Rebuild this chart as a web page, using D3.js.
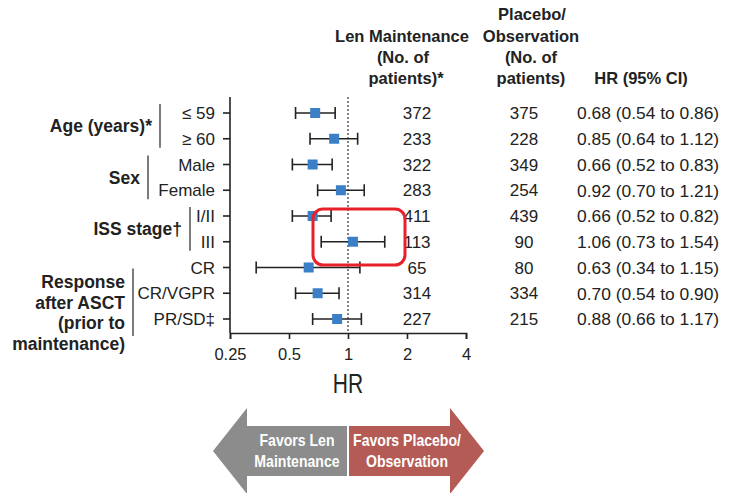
<!DOCTYPE html>
<html>
<head>
<meta charset="utf-8">
<script src="https://cdn.jsdelivr.net/npm/d3@7"></script>
<style>
  body { margin: 0; background: #fff; }
  text { font-family: "Liberation Sans", Arial, sans-serif; fill: #222; }
</style>
</head>
<body>
<div id="chart"></div>
<script>
// subgroup rows
const rowLabels = ['≤ 59', '≥ 60', 'Male', 'Female', 'I/II', 'III', 'CR', 'CR/VGPR', 'PR/SD‡']
const hr = [0.68, 0.85, 0.66, 0.92, 0.66, 1.06, 0.63, 0.70, 0.88]
const ciLow = [0.54, 0.64, 0.52, 0.70, 0.52, 0.73, 0.34, 0.54, 0.66]
const ciHigh = [0.86, 1.12, 0.83, 1.21, 0.82, 1.54, 1.15, 0.90, 1.17]
const nLen = [372, 233, 322, 283, 411, 113, 65, 314, 227]
const nPlacebo = [375, 228, 349, 254, 439, 90, 80, 334, 215]
const xTicks = [0.25, 0.5, 1, 2, 4]

// groups: label lines and first/last row index
const groups = [
    {lines: ['Age (years)*'], from: 0, to: 1},
    {lines: ['Sex'], from: 2, to: 3},
    {lines: ['ISS stage†'], from: 4, to: 5},
    {lines: ['Response', 'after ASCT', '(prior to', 'maintenance)'], from: 6, to: 8}
]

const W = 735, H = 493
const svg = d3.select('#chart').append('svg')
    .attr('width', W)
    .attr('height', H)

const x = d3.scaleLog().base(2).domain([0.25, 4]).range([230, 466])
const y = d3.scalePoint().domain(d3.range(rowLabels.length)).range([113, 319])
const axisTop = 97, axisBottom = 333

// column headers
const hdr = svg.append('g').attr('font-weight', 'bold').attr('font-size', 16.5)
    .attr('text-anchor', 'middle')
hdr.append('text').attr('x', 532).attr('y', 20).text('Placebo/')
hdr.append('text').attr('x', 402).attr('y', 42).text('Len Maintenance')
hdr.append('text').attr('x', 531).attr('y', 42).text('Observation')
hdr.append('text').attr('x', 403).attr('y', 63).text('(No. of')
hdr.append('text').attr('x', 531).attr('y', 63).text('(No. of')
hdr.append('text').attr('x', 406).attr('y', 84).text('patients)*')
hdr.append('text').attr('x', 531).attr('y', 84).text('patients)')
hdr.append('text').attr('x', 641).attr('y', 84).text('HR (95% CI)')

// axes
svg.append('g')
    .attr('transform', 'translate(0,' + axisBottom + ')')
    .call(d3.axisBottom(x).tickValues(xTicks).tickFormat(d => d).tickSize(6).tickPadding(9))
    .call(g => g.select('.domain').attr('stroke', '#222').attr('stroke-width', 1.6))
    .call(g => g.selectAll('.tick line').attr('stroke', '#222').attr('stroke-width', 1.6))
    .call(g => g.selectAll('.tick text').attr('font-size', 16.5).attr('fill', '#222')
        .attr('font-family', '"Liberation Sans", Arial, sans-serif'))

svg.append('line')
    .attr('x1', x(0.25)).attr('x2', x(0.25))
    .attr('y1', axisTop).attr('y2', axisBottom)
    .attr('stroke', '#222').attr('stroke-width', 1.6)

svg.append('line')
    .attr('x1', x(1)).attr('x2', x(1))
    .attr('y1', axisTop).attr('y2', axisBottom)
    .attr('stroke', '#333').attr('stroke-width', 1.2)
    .attr('stroke-dasharray', '2,2')

// condensed-looking axis title
svg.append('text')
    .attr('transform', 'translate(' + x(1) + ',393) scale(0.75,1)')
    .attr('text-anchor', 'middle')
    .attr('font-size', 28)
    .text('HR')

// rows
const rows = svg.selectAll('.row')
    .data(rowLabels)
    .enter().append('g')
    .attr('class', 'row')
    .attr('transform', (d, i) => 'translate(0,' + y(i) + ')')

rows.append('line')
    .attr('x1', x(0.25) - 7).attr('x2', x(0.25))
    .attr('stroke', '#222').attr('stroke-width', 1.6)

rows.append('text')
    .attr('x', 215).attr('dy', '0.36em')
    .attr('text-anchor', 'end')
    .attr('font-size', 17)
    .text(d => d)

rows.append('line')
    .attr('x1', (d, i) => x(ciLow[i])).attr('x2', (d, i) => x(ciHigh[i]))
    .attr('stroke', '#222').attr('stroke-width', 1.6)
rows.append('line')
    .attr('x1', (d, i) => x(ciLow[i])).attr('x2', (d, i) => x(ciLow[i]))
    .attr('y1', -6).attr('y2', 6)
    .attr('stroke', '#222').attr('stroke-width', 1.6)
rows.append('line')
    .attr('x1', (d, i) => x(ciHigh[i])).attr('x2', (d, i) => x(ciHigh[i]))
    .attr('y1', -6).attr('y2', 6)
    .attr('stroke', '#222').attr('stroke-width', 1.6)
rows.append('rect')
    .attr('x', (d, i) => x(hr[i]) - 5).attr('y', -5)
    .attr('width', 10).attr('height', 10)
    .attr('fill', '#3b7fc6')

rows.append('text')
    .attr('x', 417).attr('dy', '0.36em')
    .attr('text-anchor', 'middle').attr('font-size', 17)
    .text((d, i) => nLen[i])
rows.append('text')
    .attr('x', 524).attr('dy', '0.36em')
    .attr('text-anchor', 'middle').attr('font-size', 17)
    .text((d, i) => nPlacebo[i])
const f2 = d3.format('.2f')
rows.append('text')
    .attr('x', 577).attr('dy', '0.36em')
    .attr('font-size', 17.4)
    .text((d, i) => f2(hr[i]) + ' (' + f2(ciLow[i]) + ' to ' + f2(ciHigh[i]) + ')')

// group labels with separators
const sepX = [160, 148, 190, 133]
groups.forEach((g, k) => {
    let top = y(g.from) - 9, bottom = y(g.to) + 9
    if (k == 3) { top = y(g.from) + 1; bottom = y(g.to) + 17 }
    svg.append('line')
        .attr('x1', sepX[k]).attr('x2', sepX[k])
        .attr('y1', top).attr('y2', bottom)
        .attr('stroke', '#444').attr('stroke-width', 1.4)
    const mid = (y(g.from) + y(g.to)) / 2
    const lh = 20.5
    const t0 = k == 3 ? 282 : mid - (g.lines.length - 1) * lh / 2
    g.lines.forEach((l, j) => {
        svg.append('text')
            .attr('x', sepX[k] - 8).attr('y', t0 + j * lh).attr('dy', '0.36em')
            .attr('text-anchor', 'end')
            .attr('font-weight', 'bold').attr('font-size', 17.5)
            .text(l)
    })
})

// highlight box
svg.append('rect')
    .attr('x', 313).attr('y', 209)
    .attr('width', 92).attr('height', 56)
    .attr('rx', 10).attr('ry', 10)
    .attr('fill', 'none')
    .attr('stroke', '#e8202a').attr('stroke-width', 3)

// favors arrows
const mid = x(1), yc = 451
const leftArrow = 'M' + (mid - 1) + ',' + (yc - 25) + 'L247,' + (yc - 25) + 'L247,' + (yc - 43) +
    'L213,' + yc + 'L247,' + (yc + 43) + 'L247,' + (yc + 25) + 'L' + (mid - 1) + ',' + (yc + 25) + 'Z'
const rightArrow = 'M' + (mid + 1) + ',' + (yc - 25) + 'L450,' + (yc - 25) + 'L450,' + (yc - 43) +
    'L484,' + yc + 'L450,' + (yc + 43) + 'L450,' + (yc + 25) + 'L' + (mid + 1) + ',' + (yc + 25) + 'Z'
svg.append('path').attr('d', leftArrow).attr('fill', '#8c8c8c')
svg.append('path').attr('d', rightArrow).attr('fill', '#b45b55')

const arrowText = [
    {x: 297, lines: ['Favors Len', 'Maintenance']},
    {x: 407, lines: ['Favors Placebo/', 'Observation']}
]
arrowText.forEach(a => {
    a.lines.forEach((l, j) => {
        svg.append('text')
            .attr('transform', 'translate(' + a.x + ',' + (446 + j * 21) + ') scale(0.88,1)')
            .attr('text-anchor', 'middle')
            .attr('font-weight', 'bold').attr('font-size', 16)
            .style('fill', '#fff')
            .text(l)
    })
})
</script>
</body>
</html>
